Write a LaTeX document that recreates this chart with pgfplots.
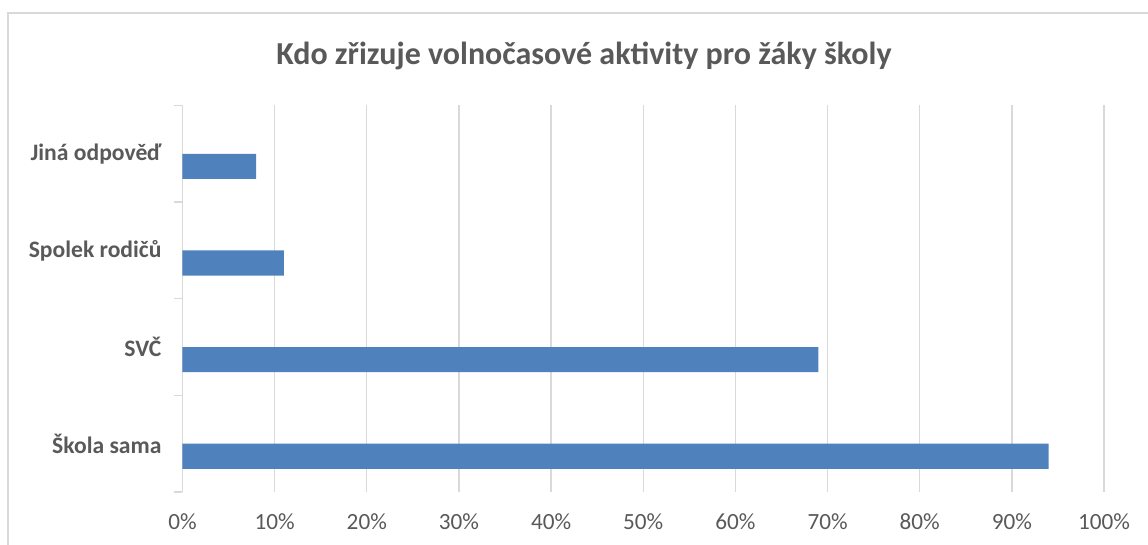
\documentclass[border=0pt]{standalone}
\usepackage{pgfplots}
\pgfplotsset{compat=1.18}
\usepackage{fontspec}
\setmainfont{Carlito}
\definecolor{barblue}{HTML}{4F81BD}
\definecolor{txtgray}{HTML}{595959}
\definecolor{gridgray}{HTML}{D9D9D9}
\begin{document}
\begin{tikzpicture}
\path[use as bounding box] (0,0) rectangle (574pt,272.5pt);
\draw[gridgray, line width=0.7pt] (574pt,266pt) -- (4pt,266pt) -- (4pt,0pt);
\node[anchor=base, text=txtgray, font=\fontsize{16}{19}\selectfont\bfseries] at (292pt,240.35pt) {Kdo zřizuje volnočasové aktivity pro žáky školy};
\begin{axis}[
  at={(91.25pt,26.5pt)}, anchor=south west,
  scale only axis, width=460.75pt, height=193.25pt,
  xmin=0, xmax=100, ymin=-0.5, ymax=3.5,
  xtick={0,10,...,100},
  xticklabel={\pgfmathprintnumber{\tick}\%},
  ytick={0,1,2,3},
  yticklabels={Škola sama, SVČ, Spolek rodičů, Jiná odpověď},
  minor ytick={-0.5,0.5,1.5,2.5,3.5},
  xtick pos=bottom, ytick pos=left,
  tick align=outside,
  major tick length=0pt, minor tick length=4pt,
  minor tick style={gridgray, line width=0.7pt},
  xmajorgrids, major grid style={gridgray, line width=0.7pt},
  axis line style={draw=none},
  /pgf/number format/assume math mode=true,
  xticklabel style={text=txtgray, font=\fontsize{11.6}{13}\selectfont, yshift=-7.5pt},
  yticklabel style={text=txtgray, font=\fontsize{11.8}{13}\selectfont\bfseries, xshift=-7pt},
  xbar, bar width=0.26, bar shift=-0.13,
]
\addplot[fill=barblue, draw=none] coordinates {(94,0) (69,1) (11,2) (8,3)};
\end{axis}
\end{tikzpicture}
\end{document}
